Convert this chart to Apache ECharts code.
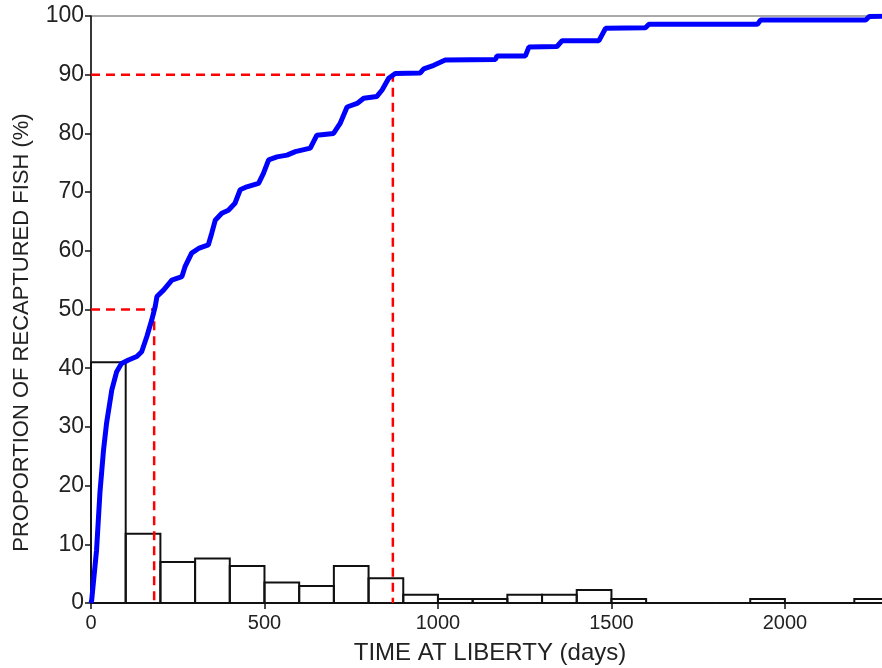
<!DOCTYPE html>
<html>
<head>
<meta charset="utf-8">
<script src="https://cdn.jsdelivr.net/npm/echarts@6/dist/echarts.min.js"></script>
<style>
  html, body { margin: 0; padding: 0; background: #fff; }
  #chart { width: 882px; height: 668px; }
</style>
</head>
<body>
<div id="chart"></div>
<script>
// histogram: 100-day bins, % of recaptured fish per bin
const binStart = [0, 100, 200, 300, 400, 500, 600, 700, 800, 900, 1000, 1100,
  1200, 1300, 1400, 1500, 1600, 1700, 1800, 1900, 2000, 2100, 2200]
const binPct = [41, 11.8, 7, 7.6, 6.3, 3.5, 2.9, 6.3, 4.2, 1.4, 0.7, 0.7,
  1.4, 1.4, 2.2, 0.7, 0, 0, 0, 0.7, 0, 0, 0.7]
const binWidth = 100

// cumulative curve
const cumDays = [0, 2, 16, 26, 36, 45, 60, 74, 88, 108, 132, 146, 161, 175, 185, 190,
  209, 233, 262, 271, 290, 310, 338, 348, 358, 377, 396, 415, 430, 449, 483, 497,
  512, 536, 565, 589, 632, 651, 699, 718, 738, 767, 786, 824, 839, 858, 877, 949,
  959, 988, 1021, 1166, 1170, 1252, 1262, 1343, 1358, 1464, 1483, 1598, 1608, 1921,
  1930, 2233, 2243, 2300]
const cumPct = [0, 0.5, 9, 19, 26, 30.7, 36.3, 39.4, 40.8, 41.4, 42, 42.8, 45.4, 48.2, 50.5, 52.2,
  53.3, 55, 55.6, 57.3, 59.6, 60.4, 61, 63, 65.2, 66.4, 66.9, 68.1, 70.4, 70.9, 71.5, 73.2,
  75.5, 76, 76.3, 76.9, 77.5, 79.7, 80, 81.7, 84.5, 85.1, 86, 86.3, 87.4, 89.4, 90.2, 90.3,
  91, 91.6, 92.5, 92.6, 93.2, 93.2, 94.7, 94.8, 95.8, 95.8, 97.9, 98, 98.6, 98.6,
  99.3, 99.3, 99.9, 100]

// reference levels (50% and 90% of fish recaptured)
const refLevels = [50, 90]
const refDays = [182, 870]

const xTicks = [0, 500, 1000, 1500, 2000]

const font = 'Liberation Sans, Arial, sans-serif'

const chart = echarts.init(document.getElementById('chart'))

const histData = binStart.map((s, i) => [s, s + binWidth, binPct[i]])
const cumData = cumDays.map((d, i) => [d, cumPct[i]])

const refSeries = refLevels.map((lvl, i) => ({
  type: 'line',
  data: [[0, lvl], [refDays[i], lvl], [refDays[i], 0]],
  symbol: 'none',
  silent: true,
  z: 3,
  lineStyle: { color: '#ff0000', width: 2.5, type: [9, 6] }
}))

chart.setOption({
  animation: false,
  grid: {
    left: 91, right: -7, top: 16, bottom: 65,
    outerBoundsMode: 'none',
    containLabel: false,
    show: true, borderColor: '#555', borderWidth: 1, backgroundColor: 'transparent'
  },
  xAxis: {
    type: 'value',
    min: 0,
    max: 2300,
    interval: 500,
    name: 'TIME AT LIBERTY (days)',
    nameLocation: 'middle',
    nameGap: 38,
    nameTextStyle: { fontFamily: font, fontSize: 24, color: '#222' },
    axisLine: { show: true, lineStyle: { color: '#111', width: 1.5 } },
    axisTick: { show: true, length: 6, lineStyle: { color: '#111', width: 1.5 } },
    axisLabel: {
      fontFamily: font, fontSize: 20, color: '#222', margin: 10,
      formatter: v => (xTicks.includes(v) ? String(v) : '')
    },
    splitLine: { show: false }
  },
  yAxis: {
    type: 'value',
    min: 0,
    max: 100,
    interval: 10,
    name: 'PROPORTION OF RECAPTURED FISH (%)',
    nameLocation: 'middle',
    nameGap: 58,
    nameTextStyle: { fontFamily: font, fontSize: 22, color: '#222', padding: [0, 46, 0, 0] },
    axisLine: { show: true, lineStyle: { color: '#111', width: 1.5 } },
    axisTick: { show: true, length: 6, lineStyle: { color: '#111', width: 1.5 } },
    axisLabel: { fontFamily: font, fontSize: 23, color: '#222', margin: 7 },
    splitLine: { show: false }
  },
  series: [
    {
      type: 'custom',
      data: histData,
      encode: { x: [0, 1], y: 2 },
      silent: true,
      z: 2,
      renderItem: (params, api) => {
        const p0 = api.coord([api.value(0), api.value(2)])
        const p1 = api.coord([api.value(1), 0])
        return {
          type: 'rect',
          shape: { x: p0[0], y: p0[1], width: p1[0] - p0[0], height: p1[1] - p0[1] },
          style: { fill: 'none', stroke: '#111', lineWidth: 2 }
        }
      }
    },
    ...refSeries,
    {
      type: 'line',
      data: cumData,
      symbol: 'none',
      z: 4,
      lineStyle: { color: '#0000ff', width: 5 }
    }
  ]
})
</script>
</body>
</html>
